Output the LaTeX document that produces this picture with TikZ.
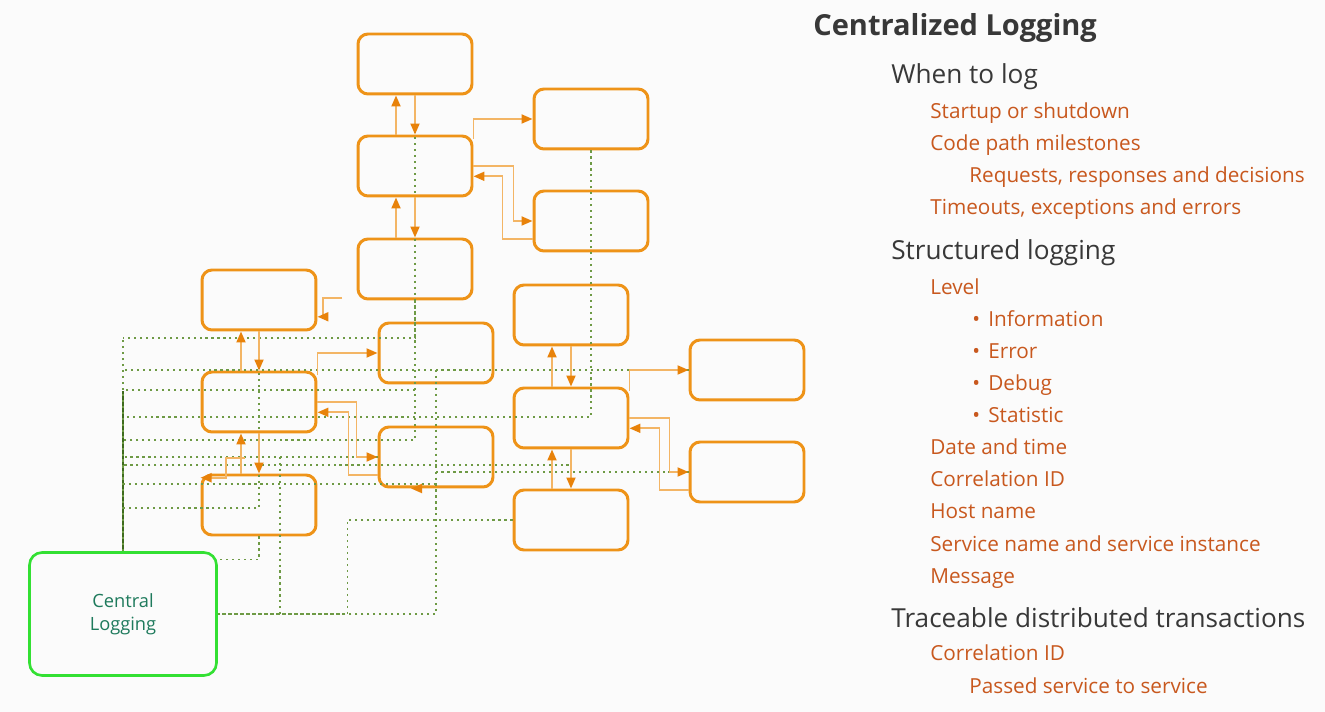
\documentclass[tikz,border=0pt]{standalone}
\usepackage{fontspec}
\setmainfont{Open Sans}
\usetikzlibrary{arrows.meta}

\definecolor{bggray}{HTML}{FBFBFB}
\definecolor{boxorange}{HTML}{EE9318}
\definecolor{floworange}{HTML}{F3B565}
\definecolor{tiporange}{HTML}{E8820A}
\definecolor{loggreen}{HTML}{6E9A45}
\definecolor{trunkgreen}{HTML}{3E6B1E}
\definecolor{centralgreen}{HTML}{33E033}
\definecolor{centraltext}{HTML}{1E7A5C}
\definecolor{itemorange}{HTML}{C8581E}
\definecolor{headgray}{HTML}{383838}

\newcommand{\bull}{\makebox[0.32cm][l]{\textbullet}}

\begin{document}
\begin{tikzpicture}[
    x=0.02cm, y=-0.02cm,
    service/.style={
        rectangle,
        rounded corners=0.2cm,
        draw=boxorange,
        line width=1.7pt,
        minimum width=2.28cm,
        minimum height=1.2cm,
        inner sep=0pt
    },
    central/.style={
        rectangle,
        rounded corners=0.25cm,
        draw=centralgreen,
        line width=1.5pt,
        minimum width=3.74cm,
        minimum height=2.46cm,
        align=center,
        text=centraltext,
        font=\fontsize{10.4}{12.9}\selectfont
    },
    flow/.style={
        draw=floworange,
        line width=1.1pt,
        -{Triangle[length=0.22cm,width=0.18cm,color=tiporange]}
    },
    logline/.style={
        draw=loggreen,
        line width=0.85pt,
        dash pattern=on 1.2pt off 2.2pt
    },
    maintitle/.style={anchor=base west, inner sep=0pt, text=headgray,
        font=\fontsize{16.5}{19}\selectfont\bfseries},
    heading/.style={anchor=base west, inner sep=0pt, text=headgray,
        font=\fontsize{14.9}{17}\selectfont},
    entry/.style={anchor=base west, inner sep=0pt, text=itemorange,
        font=\fontsize{11.8}{14}\selectfont}
]

\useasboundingbox[fill=bggray] (0,0) rectangle (1325,712);

% Services
\node[service] (A1) at (415,64) {};
\node[service] (A2) at (415,166) {};
\node[service] (A3) at (415,269) {};
\node[service] (R1) at (591,119) {};
\node[service] (R2) at (591,221) {};
\node[service] (L1) at (259,300) {};
\node[service] (L2) at (259,402) {};
\node[service] (L3) at (259,505) {};
\node[service] (M1) at (436,353) {};
\node[service] (M2) at (436,457) {};
\node[service] (C1) at (571,315) {};
\node[service] (C2) at (571,418) {};
\node[service] (C3) at (571,520) {};
\node[service] (E1) at (747,370) {};
\node[service] (E2) at (747,472) {};

% Central logging
\node[central] (central) at (123,614) {Central\\Logging};

\coordinate (trunktop) at (123,338);
\coordinate (a3stub) at (342,298);
\coordinate (l2stub) at (245,458);

% Log lines
\draw[trunkgreen, line width=0.9pt] (central.north) -- ++(0,-160);
\draw[logline] (central.north) -- (trunktop);
\draw[logline] (A3.south) |- (trunktop);
\draw[logline] (A1.south) |- (central.north |- 0,440);
\draw[logline] (A1.south |- 0,390) -- (central.north |- 0,390);
\draw[logline] (R1.south) |- (central.north |- 0,417);
\draw[logline] (E1.west) -- (central.north |- E1.west);
\draw[logline] (M2.south |- E1.west) -- (M2.south |- central.east) -- (central.east);
\draw[logline] (E2.west) -- (M2.south |- E2.west);
\draw[logline] (C3.west) -- ++(-165,0) |- (central.east);
\draw[logline] (C2.south) |- (central.north |- 0,465);
\draw[logline] (M2.west) -- (central.north |- M2.west);
\draw[logline] (central.north |- 0,484) -- (M2.south |- 0,484);
\draw[logline] (L1.south) |- (central.north |- 0,508);
\draw[logline] (L3.south) |- (central.30);
\draw[logline] (280,457) -- (central.east -| 280,0);

% Calls between services
\draw[flow] ([xshift=-0.38cm]A2.north) -- ([xshift=-0.38cm]A1.south);
\draw[flow] (A1.south) -- (A2.north);
\draw[flow] ([xshift=-0.38cm]A3.north) -- ([xshift=-0.38cm]A2.south);
\draw[flow] (A2.south) -- (A3.north);
\draw[flow] (A2.25) |- (R1.west);
\draw[flow] (A2.east) -- ++(40,0) |- (R2.west);
\draw[flow] (R2.197) -- ++(-30,0) |- (A2.-10);

\draw[flow] ([xshift=-0.36cm]L2.north) -- ([xshift=-0.36cm]L1.south);
\draw[flow] (L1.south) -- (L2.north);
\draw[flow] ([xshift=-0.36cm]L3.north) -- ([xshift=-0.36cm]L2.south);
\draw[flow] (L2.south) -- (L3.north);
\draw[flow] (L2.25) |- (M1.west);
\draw[flow] (L2.east) -- ++(39,0) |- (M2.west);
\draw[flow] (M2.197) -- ++(-29,0) |- (L2.-10);
\draw[flow] (a3stub) -- ++(-19,0) |- (L1.-16);
\draw[flow] (l2stub) -- ++(-19,0) |- (L3.155);
\draw[flow] ([xshift=-0.3cm]M2.south) -- ++(-10,0);

\draw[flow] ([xshift=-0.38cm]C2.north) -- ([xshift=-0.38cm]C1.south);
\draw[flow] (C1.south) -- (C2.north);
\draw[flow] ([xshift=-0.38cm]C3.north) -- ([xshift=-0.38cm]C2.south);
\draw[flow] (C2.south) -- (C3.north);
\draw[flow] (C2.25) |- (E1.west);
\draw[flow] (C2.east) -- ++(40,0) |- (E2.west);
\draw[flow] (E2.197) -- ++(-29,0) |- (C2.-10);

% Notes
\node[maintitle] (title) at (813,36) {Centralized Logging};
\node[heading] (whenlog) at (891,84) {When to log};
\node[entry] (startup) at (930,119) {Startup or shutdown};
\node[entry] (milestones) at (930,151) {Code path milestones};
\node[entry] (requests) at (969,183) {Requests, responses and decisions};
\node[entry] (timeouts) at (930,215) {Timeouts, exceptions and errors};
\node[heading] (structured) at (891,260) {Structured logging};
\node[entry] (level) at (930,295) {Level};
\node[entry] (info) at (972,327) {\bull Information};
\node[entry] (error) at (972,359) {\bull Error};
\node[entry] (debug) at (972,391) {\bull Debug};
\node[entry] (statistic) at (972,423) {\bull Statistic};
\node[entry] (datetime) at (930,455) {Date and time};
\node[entry] (corrid) at (930,487) {Correlation ID};
\node[entry] (host) at (930,519) {Host name};
\node[entry] (servname) at (930,551) {Service name and service instance};
\node[entry] (message) at (930,583) {Message};
\node[heading] (traceable) at (891,627) {Traceable distributed transactions};
\node[entry] (tracecorr) at (930,660) {Correlation ID};
\node[entry] (passed) at (969,693) {Passed service to service};

\end{tikzpicture}
\end{document}
